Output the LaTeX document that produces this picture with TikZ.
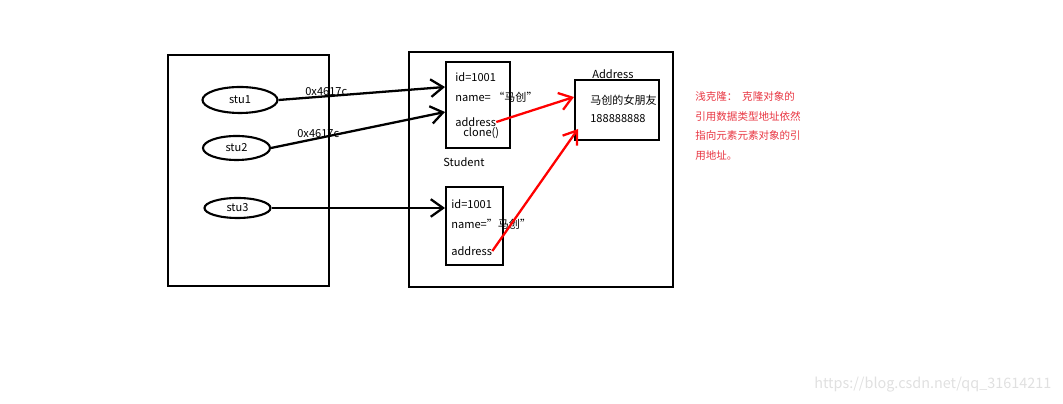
\documentclass[tikz,border=0pt]{standalone}
\usepackage{fontspec}
\setmainfont{Noto Sans CJK SC}
\usetikzlibrary{shapes.geometric,arrows.meta}

\definecolor{notered}{RGB}{232,52,64}
\tikzset{
  box/.style={draw, line width=1.2pt, inner sep=0pt},
  var/.style={ellipse, draw, line width=1.2pt, inner sep=0pt},
  ref/.style={line width=1.3pt, -{Straight Barb[length=7pt,width=10pt]}},
  redref/.style={ref, red},
}

\begin{document}
\begin{tikzpicture}[x=0.02cm, y=-0.02cm, every node/.style={font=\fontsize{6.3}{8}\selectfont, inner sep=0pt}]
        \useasboundingbox (0,0) rectangle (1063,404);
        % stack and heap
        \node[box, minimum width=3.22cm, minimum height=4.62cm] (stack) at (248.5,170.5) {};
        \node[box, minimum width=5.28cm, minimum height=4.7cm] (heap) at (541,169.5) {};
        % variables
        \node[var, minimum width=1.5cm, minimum height=0.52cm] (stu1) at (240,100) {stu1};
        \node[var, minimum width=1.34cm, minimum height=0.48cm] (stu2) at (236.5,148) {stu2};
        \node[var, minimum width=1.32cm, minimum height=0.4cm] (stu3) at (237.5,208) {stu3};
        % objects
        \node[box, minimum width=1.28cm, minimum height=1.72cm] (obj1) at (478,105) {};
        \node[box, minimum width=1.14cm, minimum height=1.56cm] (obj2) at (474.5,226) {};
        \node[box, minimum width=1.68cm, minimum height=1.2cm] (addr) at (617,110) {};
        \node[anchor=west] (id1) at (455,77) {id=1001};
        \node[anchor=west] (name1) at (455,97) {name=\ “马创”};
        \node[anchor=west] (adr1) at (455,122) {address};
        \node[anchor=west] (clone) at (463,133) {clone()};
        \node[anchor=west] (student) at (443,162) {Student};
        \node[anchor=west] (id2) at (451,204) {id=1001};
        \node[anchor=west] (name2) at (451,224) {name="马创"};
        \node[anchor=west] (adr2) at (451,251) {address};
        \node[anchor=west] (addrlbl) at (592,74) {Address};
        \node[anchor=west] (gf) at (590,100) {马创的女朋友};
        \node[anchor=west] (phone) at (590,119) {188888888};
        % end points of the arrows
        \coordinate (t1) at (445,87);
        \coordinate (t2) at (445,112);
        \coordinate (t3) at (445,208);
        \coordinate (a1) at (574,97);
        \coordinate (a2) at (578,129);
        \draw[ref] (stu1.east) -- (t1);
        \draw[ref] (stu2.east) -- (t2);
        \draw[ref] (stu3.east) -- (t3);
        \draw[redref] (adr1.east) -- (a1);
        \draw[redref] (adr2.east) -- (a2);
        \node[anchor=south west] (h1) at (305,96) {0x4617c};
        \node[anchor=south west] (h2) at (297,138) {0x4617c};
        % note
        \node[anchor=north west, align=left, notered, font=\fontsize{6}{11.3}\selectfont] (note) at (695,91)
          {浅克隆：\ \ 克隆对象的\\引用数据类型地址依然\\指向元素元素对象的引\\用地址。};
        \node[anchor=west, black!12, font=\fontsize{8.2}{10}\selectfont] (mark) at (814,385) {https://blog.csdn.net/qq\_31614211};
    \end{tikzpicture}
\end{document}
